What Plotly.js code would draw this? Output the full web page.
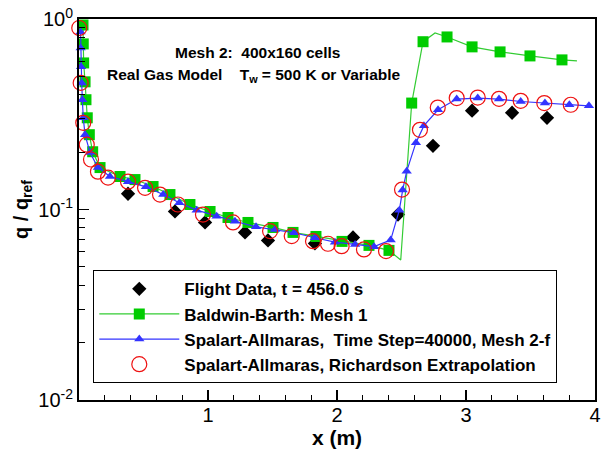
<!DOCTYPE html>
<html><head><meta charset="utf-8">
<script src="https://cdn.plot.ly/plotly-3.0.1.min.js"></script>
<style>html,body{margin:0;padding:0;background:#fff}#chart{width:606px;height:450px}</style>
</head><body><div id="chart"></div>
<script>
// Flight data
const flightX = [0.38,0.744,0.977,1.287,1.465,1.829,2.124,2.473,2.744,3.047,3.357,3.628];
const flightY = [0.121,0.0977,0.0855,0.0758,0.0688,0.0664,0.0713,0.094,0.216,0.330,0.322,0.303];
// Baldwin-Barth, Mesh 1 (marked points)
const bbX = [0.031,0.033,0.036,0.047,0.054,0.064,0.080,0.106,0.163,0.318,0.434,0.574,0.705,0.860,1.016,1.155,1.310,1.504,1.659,1.837,2.039,2.248,2.403,2.579,2.667,2.853,3.047,3.264,3.496,3.744];
const bbY = [0.930,0.740,0.588,0.468,0.377,0.303,0.247,0.201,0.166,0.149,0.1436,0.132,0.1198,0.1062,0.0976,0.0908,0.0855,0.0805,0.0758,0.0722,0.0680,0.0648,0.0610,0.362,0.760,0.805,0.714,0.672,0.640,0.610];
// Baldwin-Barth curve vertices without a marker
const bbExtraX = [2.494,2.760,3.860];
const bbExtraY = [0.0543,0.845,0.603];
// Spalart-Allmaras, Time Step=40000, Mesh 2-f
const saX = [0.012,0.013,0.016,0.021,0.026,0.033,0.047,0.085,0.147,0.240,0.380,0.519,0.653,0.778,0.912,1.067,1.209,1.372,1.519,1.667,1.829,1.984,2.140,2.287,2.416,2.483,2.509,2.540,2.612,2.674,2.783,2.928,3.091,3.256,3.424,3.612,3.801,3.953];
const saY = [0.855,0.705,0.561,0.462,0.377,0.303,0.247,0.199,0.166,0.149,0.140,0.1315,0.1198,0.1084,0.0992,0.0923,0.0868,0.0811,0.0786,0.0755,0.0711,0.0674,0.0656,0.0638,0.0691,0.0992,0.1265,0.1587,0.2243,0.2754,0.334,0.380,0.3845,0.380,0.369,0.362,0.3546,0.350];
// Spalart-Allmaras, Richardson Extrapolation
const rX = [0.002,0.013,0.033,0.060,0.093,0.147,0.225,0.380,0.512,0.628,0.767,0.961,1.194,1.481,1.649,1.814,1.930,2.036,2.209,2.380,2.504,2.643,2.781,2.928,3.091,3.256,3.424,3.607,3.812];
const rY = [0.897,0.462,0.285,0.219,0.183,0.158,0.147,0.140,0.130,0.1198,0.1062,0.0941,0.0855,0.0770,0.0725,0.0682,0.0661,0.0642,0.0617,0.0605,0.1273,0.262,0.343,0.3845,0.387,0.381,0.372,0.362,0.3546];

const names = ['Flight Data, t = 456.0 s','Baldwin-Barth: Mesh 1','Spalart-Allmaras,&nbsp; Time Step=40000, Mesh 2-f','Spalart-Allmaras, Richardson Extrapolation'];
const xTickVals = [1,2,3,4];
const xTickText = ['1','2','3','4'];
const yTickVals = [0.01,0.1,1];
const yTickText = ['10<sup>-2</sup>','10<sup>-1</sup>','10<sup>0</sup>'];

// merge marked and unmarked vertices of the Baldwin-Barth curve
const bbLine = bbX.map((x,i)=>[x,bbY[i],i]).concat(bbExtraX.map((x,i)=>[x,bbExtraY[i],1000+i]));
bbLine.sort((a,b)=> a[0]-b[0] || a[2]-b[2]);

const GREEN='#00cc00', GREENL='#33cc33', BLUE='#3333ff', RED='#ee1111';
const traces = [
  {x:flightX, y:flightY, mode:'markers', name:names[0], legendgroup:'a', cliponaxis:false,
   marker:{symbol:'diamond', size:11, color:'#000'}},
  {x:bbLine.map(p=>p[0]), y:bbLine.map(p=>p[1]), mode:'lines', showlegend:false, cliponaxis:false,
   line:{color:GREENL, width:1.2}},
  {x:bbX, y:bbY, mode:'markers', showlegend:false, cliponaxis:false,
   marker:{symbol:'square', size:11, color:GREEN}},
  {x:[null], y:[null], mode:'lines+markers', name:names[1], legendgroup:'b',
   line:{color:GREENL, width:1.2}, marker:{symbol:'square', size:11, color:GREEN}},
  {x:saX, y:saY, mode:'lines+markers', name:names[2], legendgroup:'c', cliponaxis:false,
   line:{color:BLUE, width:1.2}, marker:{symbol:'triangle-up', size:9, color:BLUE}},
  {x:rX, y:rY, mode:'markers', name:names[3], legendgroup:'d', cliponaxis:false,
   marker:{symbol:'circle-open', size:15, color:RED, line:{width:1.2, color:RED}}}
];

const minorY = [];
for (const d of [0.01,0.1]) for (let k=2;k<=9;k++) minorY.push(d*k);

const FONT = 'Arial, "Liberation Sans", sans-serif';
const layout = {
  width:606, height:450,
  margin:{l:79, r:11, t:19, b:50},
  paper_bgcolor:'#fff', plot_bgcolor:'#fff',
  showlegend:true,
  font:{family:FONT, color:'#000'},
  xaxis:{range:[0,4], tickvals:xTickVals, ticktext:xTickText, ticks:'inside', ticklen:10, tickwidth:1.5, tickcolor:'#000',
    showline:true, linewidth:2, linecolor:'#000', mirror:true, showgrid:false, zeroline:false,
    tickfont:{family:FONT, size:20, color:'#000'}, ticklabelstandoff:-4,
    minor:{tick0:0, dtick:0.2, ticks:'inside', ticklen:5, tickwidth:1, tickcolor:'#000', showgrid:false},
    title:{text:'x (m)', font:{family:FONT, size:21, weight:'bold', color:'#000'}, standoff:5}},
  yaxis:{type:'log', range:[-2,0], tickvals:yTickVals, ticktext:yTickText, ticks:'inside', ticklen:10, tickwidth:1.5, tickcolor:'#000',
    showline:true, linewidth:2, linecolor:'#000', mirror:true, showgrid:false, zeroline:false,
    tickfont:{family:FONT, size:20, color:'#000'},
    minor:{tickvals:minorY, ticks:'inside', ticklen:6, tickwidth:1, tickcolor:'#000', showgrid:false},
    title:{text:'q / q<sub>ref</sub>', font:{family:FONT, size:20, weight:'bold', color:'#000'}, standoff:4}},
  legend:{x:0.0277, y:0.3404, xanchor:'left', yanchor:'top', bgcolor:'#fff', bordercolor:'#000', borderwidth:1,
    font:{family:FONT, size:17, weight:'bold', color:'#000'}, itemwidth:80, traceorder:'normal', tracegroupgap:0},
  annotations:[
    {xref:'paper', yref:'paper', x:0.182, y:0.911, xanchor:'left', yanchor:'middle', showarrow:false,
     text:'Mesh 2:&nbsp; 400x160 cells', font:{family:FONT, size:15.5, weight:'bold', color:'#000'}},
    {xref:'paper', yref:'paper', x:0.050, y:0.853, xanchor:'left', yanchor:'middle', showarrow:false,
     text:'Real Gas Model &nbsp;&nbsp; T<sub>w</sub> = 500 K or Variable', font:{family:FONT, size:15.5, weight:'bold', color:'#000'}}
  ]
};
Plotly.newPlot('chart', traces, layout, {displayModeBar:false, staticPlot:true});
</script></body></html>
